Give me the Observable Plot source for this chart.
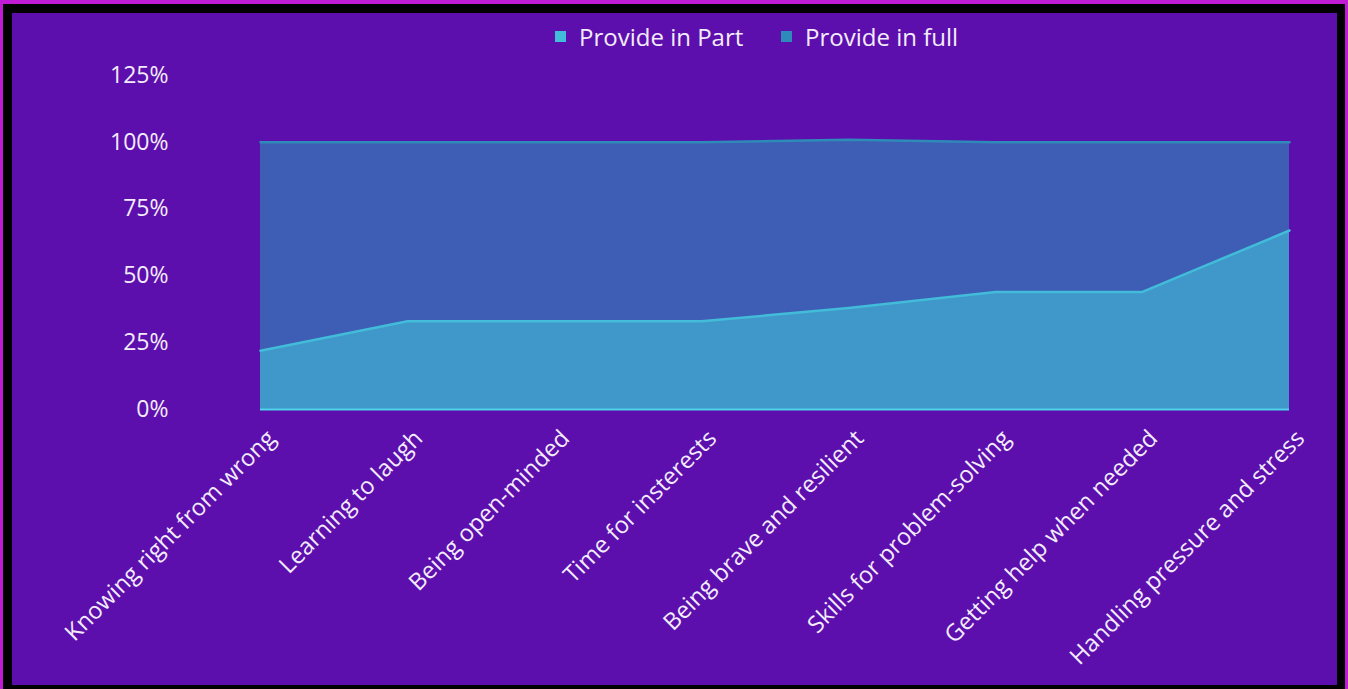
<!DOCTYPE html>
<html>
<head>
<meta charset="utf-8">
<script src="https://cdn.jsdelivr.net/npm/d3@7"></script>
<script src="https://cdn.jsdelivr.net/npm/@observablehq/plot@0.6"></script>
<style>
  html, body { margin: 0; padding: 0; }
  body { width: 1348px; height: 689px; background: #c01cd6; position: relative; overflow: hidden; font-family: "Open Sans", sans-serif; }
  #frame { position: absolute; left: 3px; top: 4px; width: 1325px; height: 672px;
           border-style: solid; border-color: #000; border-width: 9px 8px 8px 9px; background: #5d0fad; }
  #legend { position: absolute; left: 0; top: 0; width: 1325px; height: 40px; }
  .item { position: absolute; top: 7px; display: flex; align-items: center; color: #f3ecfb; font-size: 24px; white-space: nowrap; }
  .sw { width: 11px; height: 11px; margin-right: 13px; }
  #chart { position: absolute; left: 0; top: 40px; }
</style>
</head>
<body>
<div id="frame">
  <div id="legend"></div>
  <div id="chart"></div>
</div>
<script>
const categories = [
  "Knowing right from wrong",
  "Learning to laugh",
  "Being open-minded",
  "Time for insterests",
  "Being brave and resilient",
  "Skills for problem-solving",
  "Getting help when needed",
  "Handling pressure and stress"
];
const seriesNames = ["Provide in Part", "Provide in full"];
const provideInPart = [0.22, 0.33, 0.33, 0.33, 0.38, 0.44, 0.44, 0.67];
const provideInFull = [0.78, 0.67, 0.67, 0.67, 0.63, 0.56, 0.56, 0.33];
const yTicks = [0, 0.25, 0.5, 0.75, 1, 1.25];

const fillColors = {"Provide in Part": "#3f97ca", "Provide in full": "#3e5db5"};
const lineColors = {"Provide in Part": "#42bcd9", "Provide in full": "#2e8ab9"};
const legendColors = {"Provide in Part": "#42bcd9", "Provide in full": "#2e8ab9"};

const data = [];
categories.forEach((c, i) => {
  data.push({cat: c, series: seriesNames[0], value: provideInPart[i]});
  data.push({cat: c, series: seriesNames[1], value: provideInFull[i]});
});

// legend
const legend = document.getElementById("legend");
const legendX = [543, 769];
seriesNames.forEach((s, i) => {
  const it = document.createElement("div");
  it.className = "item";
  it.style.left = legendX[i] + "px";
  it.innerHTML = `<span class="sw" style="background:${legendColors[s]}"></span><span>${s}</span>`;
  legend.appendChild(it);
});

const chart = Plot.plot({
  width: 1325,
  height: 632,
  marginLeft: 248,
  marginRight: 48,
  marginTop: 22,
  marginBottom: 276,
  style: {background: "transparent", color: "#f3ecfb", fontFamily: "Open Sans, sans-serif"},
  x: {type: "point", domain: categories, padding: 0, axis: null},
  y: {domain: [0, 1.25], axis: null},
  color: {type: "identity"},
  marks: [
    Plot.areaY(data, {x: "cat", y: "value", z: "series", order: seriesNames,
      fill: d => fillColors[d.series], curve: "linear"}),
    Plot.lineY(data, Plot.stackY2({x: "cat", y: "value", z: "series", order: seriesNames,
      stroke: d => lineColors[d.series], strokeWidth: 2.5})),
    Plot.ruleY([0], {stroke: "#4fd2ea", strokeWidth: 2}),
    Plot.axisY({ticks: yTicks, tickFormat: d3.format(".0%"), tickSize: 0, tickPadding: 0,
      dx: -92, fontSize: 23, fill: "#f3ecfb", textAnchor: "end", label: null}),
    Plot.text(categories, {x: d => d, y: 0, text: d => d, rotate: -45, textAnchor: "end",
      lineAnchor: "middle", dx: 11, dy: 25, fontSize: 23.5, fill: "#f3ecfb"})
  ]
});
document.getElementById("chart").appendChild(chart);
</script>
</body>
</html>
